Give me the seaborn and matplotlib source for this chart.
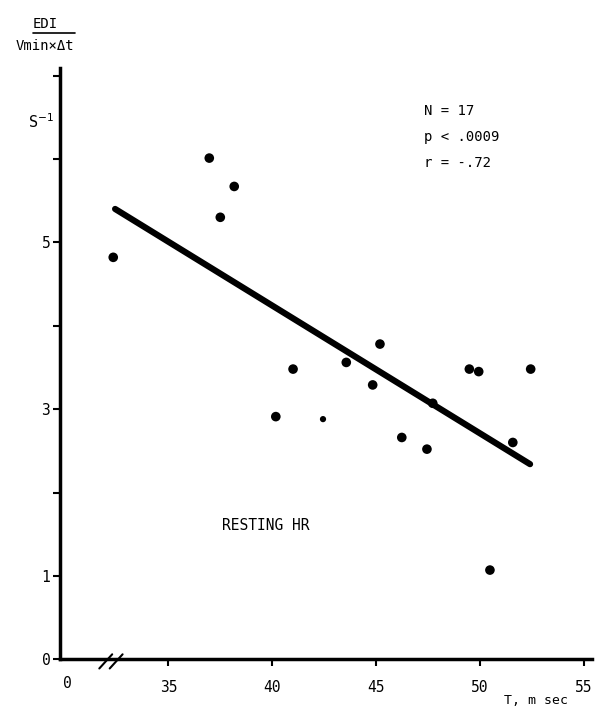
import matplotlib
matplotlib.use("Agg")
import matplotlib.pyplot as plt
import seaborn as sns
import pandas as pd

# data
t_msec = [32.35, 36.97, 38.17, 37.50, 40.17, 41.00, 43.56, 44.83, 45.18,
          46.23, 47.44, 47.72, 49.48, 49.93, 50.47, 51.57, 52.43]
edi = [4.82, 6.01, 5.67, 5.30, 2.91, 3.48, 3.56, 3.29, 3.78,
       2.66, 2.52, 3.07, 3.48, 3.45, 1.07, 2.60, 3.48]
# one faint smaller dot
small_x = [42.44]
small_y = [2.88]
# regression line end points
fit_x = [32.44, 52.40]
fit_y = [5.40, 2.34]

x_ticks = [35, 40, 45, 50, 55]
y_ticks = [0, 1, 2, 3, 4, 5, 6, 7]
y_labels = ["0", "1", "", "3", "", "5", "", ""]
stats_text = ["N = 17", "p < .0009", "r = -.72"]

df = pd.DataFrame({"T": t_msec, "EDI": edi})

sns.set_style("ticks")
plt.rcParams["font.family"] = ["DejaVu Sans Mono", "DejaVu Sans"]
plt.rcParams["text.color"] = "black"

fig = plt.figure(figsize=(5.96, 7.1), dpi=100)
ax = fig.add_axes([0.1007, 0.0714, 0.8926, 0.8328])

sns.scatterplot(data=df, x="T", y="EDI", color="black", s=48,
                edgecolor="none", ax=ax, legend=False)
sns.scatterplot(x=small_x, y=small_y, color="black", s=20,
                edgecolor="none", ax=ax, legend=False)
sns.lineplot(x=fit_x, y=fit_y, color="black", linewidth=4.5, ax=ax,
             solid_capstyle="round")

ax.set_xlim(29.79, 55.38)
ax.set_ylim(0, 7.09)
ax.set_xticks(x_ticks)
ax.set_xticklabels([str(v) for v in x_ticks])
ax.set_yticks(y_ticks)
ax.set_yticklabels(y_labels)
ax.set_xlabel("")
ax.set_ylabel("")

sns.despine(ax=ax)
for s in ["left", "bottom"]:
    ax.spines[s].set_linewidth(2.5)
    ax.spines[s].set_color("black")
ax.tick_params(axis="both", direction="out", length=5, width=1.5,
               labelsize=10.5, colors="black")
ax.tick_params(axis="x", pad=10)
ax.tick_params(axis="y", pad=2)

# "0" under the corner of the axes
ax.text(30.16, -0.29, "0", ha="center", va="center", fontsize=10.5)

# axis break marks
for x0 in [31.68, 32.18]:
    ax.plot([x0, x0 + 0.62], [-0.11, 0.06], color="black", lw=1.5,
            clip_on=False)

# stats block
for i, txt in enumerate(stats_text):
    ax.text(0.685, 0.927 - i * 0.044, txt, transform=ax.transAxes,
            fontsize=10, ha="left", va="center")

ax.text(0.305, 0.227, "RESTING HR", transform=ax.transAxes,
        fontsize=10.5, ha="left", va="center")

# axis titles
fig.text(0.068, 0.828, "S$^{-1}$", fontsize=11, ha="center", va="center")
fig.text(0.9, 0.014, "T, m sec", fontsize=9.5, ha="center", va="center")
fig.text(0.076, 0.966, "EDI", fontsize=10, ha="center", va="center")
fig.add_artist(plt.Line2D([0.055, 0.126], [0.953, 0.953], color="black",
                          lw=1.2, transform=fig.transFigure))
fig.text(0.076, 0.935, "Vmin\u00d7\u0394t", fontsize=10, ha="center",
         va="center")

fig.savefig("out.png", dpi=100)
